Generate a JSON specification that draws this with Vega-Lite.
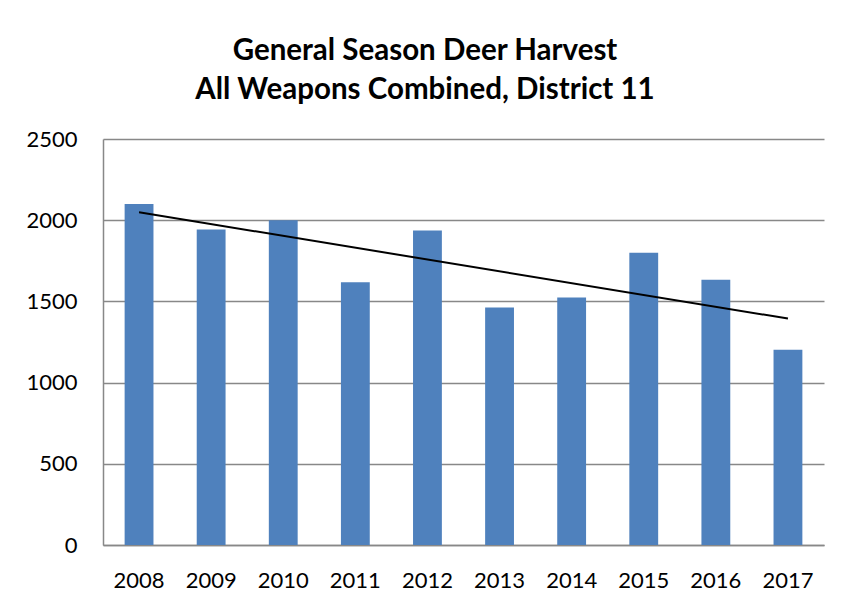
{
  "$schema": "https://vega.github.io/schema/vega-lite/v6.json",
  "width": 721,
  "height": 406,
  "autosize": {"type": "none"},
  "padding": {"left": 103, "top": 139, "right": 20, "bottom": 62},
  "background": "white",
  "title": {
    "text": ["General Season Deer Harvest", "All Weapons Combined, District 11"],
    "font": "Lato",
    "fontSize": 29.5,
    "fontWeight": "bold",
    "lineHeight": 39,
    "color": "black",
    "anchor": "middle",
    "frame": "bounds",
    "offset": 23
  },
  "data": {
    "values": [
      {"year": 2008, "value": 2100},
      {"year": 2009, "value": 1942},
      {"year": 2010, "value": 2000},
      {"year": 2011, "value": 1618},
      {"year": 2012, "value": 1936},
      {"year": 2013, "value": 1462},
      {"year": 2014, "value": 1524},
      {"year": 2015, "value": 1799},
      {"year": 2016, "value": 1633},
      {"year": 2017, "value": 1202}
    ]
  },
  "encoding": {
    "x": {
      "field": "year",
      "type": "ordinal",
      "scale": {"paddingInner": 0.6, "paddingOuter": 0.3},
      "axis": {
        "title": null,
        "labelAngle": 0,
        "labelFont": "Lato",
        "labelFontSize": 22,
        "labelColor": "black",
        "labelPadding": 25,
        "ticks": false,
        "domainColor": "#888888",
        "domainWidth": 1.5
      }
    }
  },
  "layer": [
    {
      "mark": {"type": "bar", "color": "#4F81BD"},
      "encoding": {
        "y": {
          "field": "value",
          "type": "quantitative",
          "scale": {"domain": [0, 2500], "nice": false},
          "axis": {
            "title": null,
            "values": [0, 500, 1000, 1500, 2000, 2500],
            "format": "d",
            "labelFont": "Lato",
            "labelFontSize": 22,
            "labelColor": "black",
            "labelPadding": 26,
            "ticks": false,
            "domain": true,
            "domainColor": "#888888",
            "domainWidth": 1.5,
            "grid": true,
            "gridColor": "#888888",
            "gridWidth": 1.5
          }
        }
      }
    },
    {
      "transform": [{"regression": "value", "on": "year"}],
      "mark": {"type": "line", "color": "black", "strokeWidth": 2},
      "encoding": {
        "y": {"field": "value", "type": "quantitative"}
      }
    }
  ],
  "config": {
    "view": {"stroke": null}
  }
}
